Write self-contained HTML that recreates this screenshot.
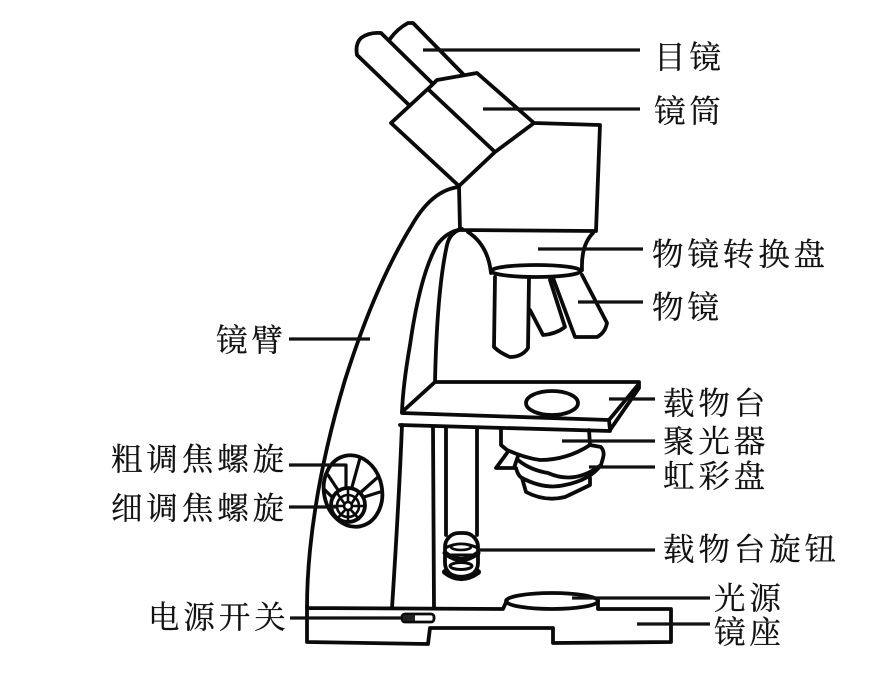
<!DOCTYPE html>
<html><head><meta charset="utf-8"><style>
html,body{margin:0;padding:0;background:#fff}
svg{display:block}
text{font-family:"Liberation Serif","Noto Serif CJK SC",serif;font-size:31.5px;letter-spacing:3.9px;fill:#111;stroke:#111;stroke-width:.25px}
</style></head><body>
<svg width="878" height="676" viewBox="0 0 878 676" xmlns="http://www.w3.org/2000/svg">
<g fill="none" stroke="#0a0a0a" stroke-width="3.8" stroke-linejoin="round" stroke-linecap="round">
<!-- eyepieces -->
<path d="M409 105L357 55Q355 44 361 38Q369 32 381 33L432 83"/>
<path d="M390 39Q397 29 408 23H413L463 74"/>
<!-- tube -->
<path d="M431 86L437 80L477 73L534 123L600 125L596 231L460 230L459 186L391 123L431 86"/>
<path d="M429 90L495 152M459 186L495 152L534 123"/>
<!-- arm -->
<path d="M459 187Q432 190 412 225Q375 285 345 380Q318 470 310 550Q307 580 307 608"/>
<path d="M462 229Q446 232 437 245Q420 275 410 345Q403 385 402 412"/>
<path d="M462 229Q450 232 447 245Q437 290 435 382"/>
<path d="M402 425Q399 500 392 608M433 428L434 608"/>
<!-- nosepiece -->
<path d="M468 232Q488 245 491 273M593 233Q581 245 582 270"/>
<ellipse cx="536" cy="271" rx="45" ry="6"/>
<!-- objectives -->
<path d="M495 277L494 347Q500 353 510 357Q522 357 528 348L529 278"/>
<path d="M530 310L543 335Q556 334 565 327L550 280"/>
<path d="M553 278L575 337L597 337Q605 333 607 323L582 275"/>
<!-- stage -->
<path d="M402 412L435 382L639 382V388L610 430L609 420L402 413"/>
<path d="M638 385L609 420M400 425L610 431"/>
<ellipse cx="552" cy="403" rx="26" ry="12"/>
<!-- post -->
<path d="M446 428V535M477 428V535"/>
<!-- condenser -->
<path d="M501 430V445L507 450Q525 458 540 460Q567 460 590 445L589 430"/>
<path d="M507 453L496 468H514L518 456"/>
<path d="M590 445L601 447Q605 452 603 458L601 465Q575 485 548 473Q530 470 518 460"/>
<path d="M516 468Q518 476 522 478Q545 490 565 485Q590 480 601 465"/>
<path d="M522 478L526 492Q545 502 565 497Q580 490 590 485V478"/>
<!-- base -->
<path d="M308 608L503 609L507 600M598 600V609L671 609V642L553 643V628H430L428 644L307 642V606"/>
<ellipse cx="552" cy="601" rx="46" ry="8"/>
<rect x="402" y="614" width="32" height="8" rx="3" stroke-width="2.8"/>
<rect x="403" y="615" width="12" height="6" fill="#222" stroke="none"/>
<!-- wheel -->
<ellipse cx="353" cy="491" rx="29" ry="36" transform="rotate(-12 353 491)"/>
<circle cx="348" cy="506" r="4" stroke-width="2.6"/>
<circle cx="348" cy="505" r="17"/>
<circle cx="348" cy="506" r="11" stroke-width="2.6"/>
<path d="M346 465V487M360 458L352 487M378 477L360 493M380 492L364 497M328 475L338 490M325 490L333 498" stroke-width="3.2"/>
<path d="M348 502V489M352 503L359 492M344 503L337 493M352 506H365M344 506H331M351 510L359 519M345 510L337 519M348 511V522" stroke-width="2.6"/>
</g>
<!-- knob -->
<g fill="none" stroke="#0a0a0a" stroke-linecap="round">
<rect x="445" y="533" width="33" height="44" rx="14" stroke-width="3.8"/>
<path d="M445 555H478M445 548Q461 540 478 548" stroke-width="3"/>
<path d="M445 572Q461 584 478 572" stroke-width="6"/>
<path d="M445 553Q461 566 478 553" stroke-width="5"/>
<ellipse cx="461" cy="547" rx="10" ry="3" fill="#fff" stroke-width="2.6"/>
<ellipse cx="461" cy="566" rx="11" ry="3.5" fill="#fff" stroke-width="3"/>
</g>
<g stroke="#111" stroke-width="3.2" fill="none">
<path d="M423 50H640M483 109H640M538 249H643M578 302H643M609 399H655M562 441H655M589 467H655M477 550H655M572 598H710M637 624H710"/>
<path d="M289 339H370M289 465H345M289 507H338M290 618H402"/>
</g>
<text x="654" y="68">目镜</text>
<text x="654" y="122">镜筒</text>
<text x="652" y="265">物镜转换盘</text>
<text x="652" y="318">物镜</text>
<text x="663" y="414">载物台</text>
<text x="663" y="452">聚光器</text>
<text x="663" y="487">虹彩盘</text>
<text x="663" y="560">载物台旋钮</text>
<text x="714" y="609">光源</text>
<text x="714" y="643">镜座</text>
<text x="216" y="351">镜臂</text>
<text x="111" y="470">粗调焦螺旋</text>
<text x="111" y="519">细调焦螺旋</text>
<text x="148" y="628">电源开关</text>
</svg>
</body></html>
